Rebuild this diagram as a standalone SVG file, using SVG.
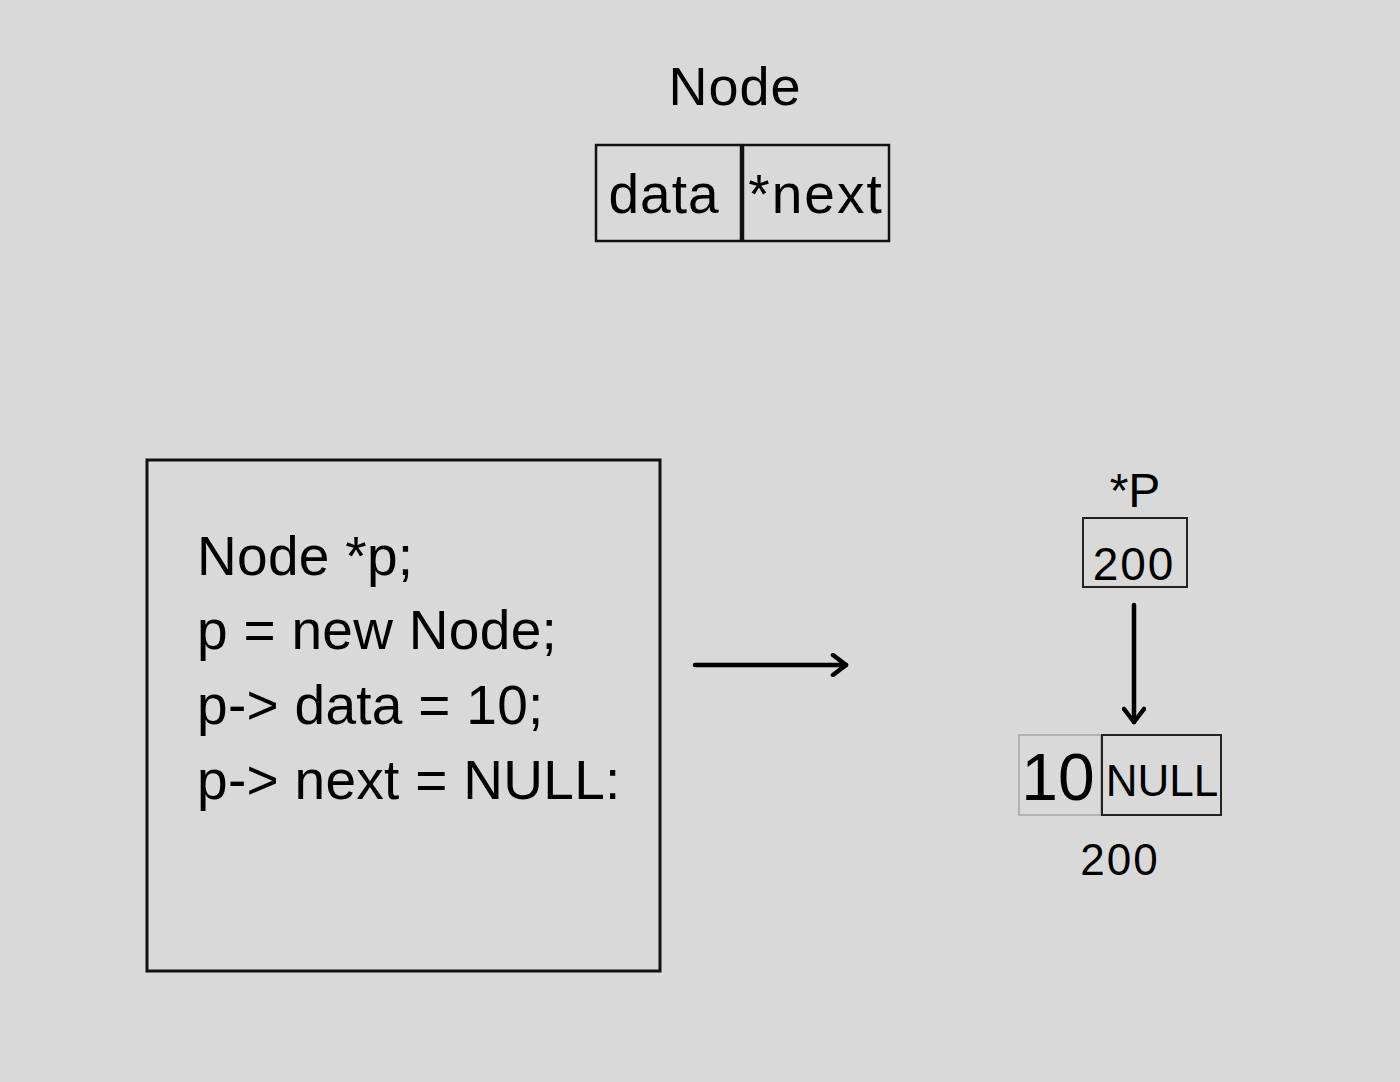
<svg xmlns="http://www.w3.org/2000/svg" width="1400" height="1082" viewBox="0 0 1400 1082">
<style>
text{font-family:"Liberation Sans",Arial,sans-serif;fill:#000}
.box{fill:none;stroke:#111;stroke-width:2.5}
.code{font-size:55px;letter-spacing:0.3px}
.conn{stroke:#000;stroke-width:4.5;fill:none;stroke-linecap:round}
</style>
<defs>
<marker id="head" viewBox="0 0 20 24" refX="16" refY="12" markerWidth="20" markerHeight="24" orient="auto" markerUnits="userSpaceOnUse">
<path d="M3,2 L16,12 L3,22" fill="none" stroke="#000" stroke-width="4.5" stroke-linecap="round" stroke-linejoin="round"/>
</marker>
</defs>
<rect width="1400" height="1082" fill="#d9d9d9"/>
<g id="node-def">
<text x="735" y="105" font-size="54" text-anchor="middle" letter-spacing="1">Node</text>
<rect class="box" x="596" y="145" width="145" height="96"/>
<rect class="box" x="743" y="145" width="146" height="96"/>
<text x="664" y="213" font-size="55" text-anchor="middle" letter-spacing="1">data</text>
<text x="816" y="213" font-size="55" text-anchor="middle" letter-spacing="2">*next</text>
</g>
<g id="code">
<rect x="147" y="460" width="513" height="511" fill="none" stroke="#111" stroke-width="3"/>
<text class="code" x="197" y="575" letter-spacing="1.5">Node *p;</text>
<text class="code" x="197" y="649" letter-spacing="0.8">p = new Node;</text>
<text class="code" x="197" y="724">p-&gt; data = 10;</text>
<text class="code" x="197" y="799">p-&gt; next = NULL:</text>
</g>
<g id="pointer">
<text x="1135" y="507" font-size="48" text-anchor="middle">*P</text>
<rect x="1083" y="518" width="104" height="69" fill="none" stroke="#222" stroke-width="2"/>
<text x="1134" y="580" font-size="46" text-anchor="middle" letter-spacing="2">200</text>
</g>
<g id="heap-node">
<rect x="1019" y="735" width="82" height="80" fill="none" stroke="#999" stroke-width="1.2"/>
<rect x="1102" y="735" width="119" height="80" fill="none" stroke="#222" stroke-width="2"/>
<text x="1058" y="800" font-size="66" text-anchor="middle">10</text>
<text x="1162" y="796" font-size="44" text-anchor="middle">NULL</text>
<text x="1120" y="875" font-size="44" text-anchor="middle" letter-spacing="2">200</text>
</g>
<g id="connectors">
<line class="conn" x1="695" y1="665" x2="846" y2="665" marker-end="url(#head)"/>
<line class="conn" x1="1134" y1="605" x2="1134" y2="722" marker-end="url(#head)"/>
</g>
</svg>
